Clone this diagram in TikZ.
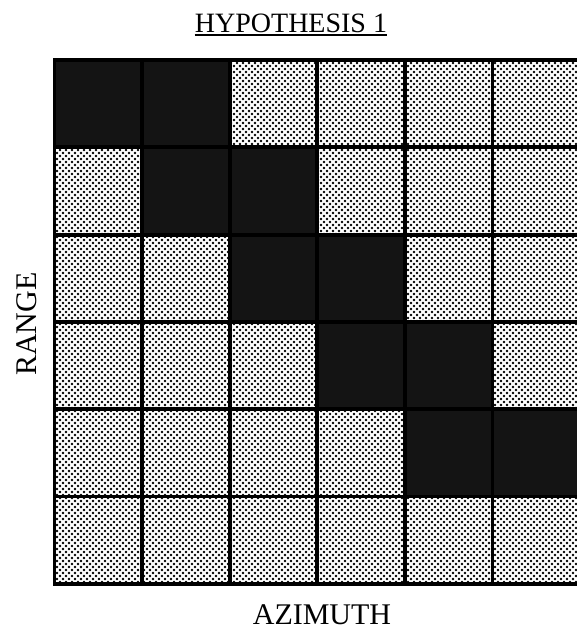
\documentclass[tikz,border=0pt]{standalone}
\usepackage{fontspec}
\setmainfont{Liberation Serif}
\usetikzlibrary{patterns, positioning}

% staggered halftone dots for the light cells
\pgfdeclarepatternformonly{halftone}{\pgfqpoint{-1.5pt}{-1.5pt}}{\pgfqpoint{4.5pt}{4.5pt}}{\pgfqpoint{6pt}{6pt}}{%
  \pgfpathcircle{\pgfqpoint{0pt}{0pt}}{1.4pt}%
  \pgfpathcircle{\pgfqpoint{3pt}{3pt}}{1.4pt}%
  \pgfusepath{fill}}

\begin{document}
\begin{tikzpicture}[
        x=1pt, y=-1pt,
        lightcell/.style={rectangle, draw=black, line width=3.8pt, pattern=halftone, pattern color=black, minimum width=87.6pt, minimum height=87.3pt, inner sep=0pt},
        darkcell/.style={lightcell, pattern=none, fill=black!92},
        title/.style={font=\fontsize{28}{30}\selectfont, inner sep=0pt, anchor=base},
        axis/.style={font=\fontsize{30}{32}\selectfont, inner sep=0pt},
        underline/.style={line width=2pt}
    ]
        \useasboundingbox (0,0) rectangle (577,630);

        \foreach \r in {0,...,5} {
            \foreach \c in {0,...,5} {
                \pgfmathtruncatemacro\d{and(or(\c==\r,\c==\r+1),\r<5)}
                \ifnum\d=1
                    \node[darkcell] (cell-\r-\c) at (54.5+87.6*\c+43.8, 60+87.3*\r+43.65) {};
                \else
                    \node[lightcell] (cell-\r-\c) at (54.5+87.6*\c+43.8, 60+87.3*\r+43.65) {};
                \fi
            }
        }

        \node[title] (hyp) at (291,32) {HYPOTHESIS 1};
        \draw[underline] ([yshift=-3pt]hyp.south west) -- ([yshift=-3pt]hyp.south east);

        \node[axis, rotate=90] (range) at (27,324) {RANGE};
        \node[axis, anchor=base] (azimuth) at (322,624) {AZIMUTH};
    \end{tikzpicture}
\end{document}
